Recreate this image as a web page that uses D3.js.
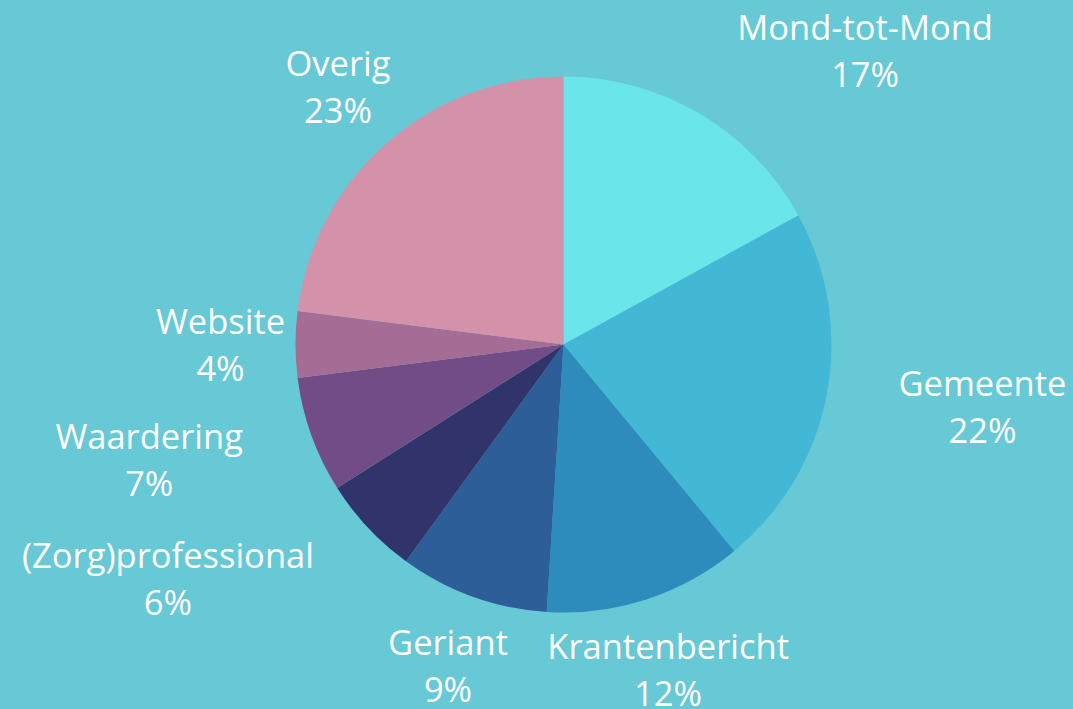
<!DOCTYPE html>
<html>
<head>
<meta charset="utf-8">
<script src="https://cdn.jsdelivr.net/npm/d3@7"></script>
<style>
  html, body { margin: 0; padding: 0; background: #67c8d6; }
  svg { display: block; }
  text { font-family: "Open Sans", "Noto Sans", sans-serif; fill: #ffffff; }
</style>
</head>
<body>
<svg id="chart" width="1073" height="709"></svg>
<script>
// Herkomst van aanmeldingen, aandeel in procenten
const categories = ["Mond-tot-Mond", "Gemeente", "Krantenbericht", "Geriant",
                    "(Zorg)professional", "Waardering", "Website", "Overig"];
const shares = [17, 22, 12, 9, 6, 7, 4, 23];
const colors = ["#6ae5e9", "#42b8d6", "#2e8cbc", "#2d5e97",
                "#31346b", "#724c86", "#a56c96", "#d491aa"];

// Label nudges (px) relative to the slice's outer label point
const labelNudge = [[98, 40], [26, -23], [-19, -66], [20, -66],
                    [-104, -50], [-38, -31], [57, -11], [39, 32]];

const width = 1073, height = 709;
const cx = 563.5, cy = 344.5, radius = 268, labelRadius = 400;

const svg = d3.select("#chart");
svg.append("rect").attr("width", width).attr("height", height).attr("fill", "#67c8d6");

const data = categories.map((name, i) => ({ name, value: shares[i], i }));

const pie = d3.pie().value(d => d.value).sort(null).startAngle(0).endAngle(2 * Math.PI);
const arc = d3.arc().innerRadius(0).outerRadius(radius);
const labelArc = d3.arc().innerRadius(labelRadius).outerRadius(labelRadius);

const color = d3.scaleOrdinal().domain(categories).range(colors);

const g = svg.append("g").attr("transform", `translate(${cx},${cy})`);
const arcs = pie(data);

g.selectAll("path.slice")
  .data(arcs)
  .join("path")
  .attr("class", "slice")
  .attr("d", arc)
  .attr("fill", d => color(d.data.name));

const fontSize = 34.5, lineGap = 47;

const labels = g.selectAll("g.label")
  .data(arcs)
  .join("g")
  .attr("class", "label")
  .attr("transform", d => {
    const [x, y] = labelArc.centroid(d);
    const [dx, dy] = labelNudge[d.data.i];
    return `translate(${x + dx},${y + dy})`;
  });

labels.append("text")
  .attr("text-anchor", "middle")
  .style("font-size", fontSize + "px")
  .text(d => d.data.name);

labels.append("text")
  .attr("text-anchor", "middle")
  .attr("y", lineGap)
  .style("font-size", fontSize + "px")
  .text(d => d.data.value + "%");
</script>
</body>
</html>
